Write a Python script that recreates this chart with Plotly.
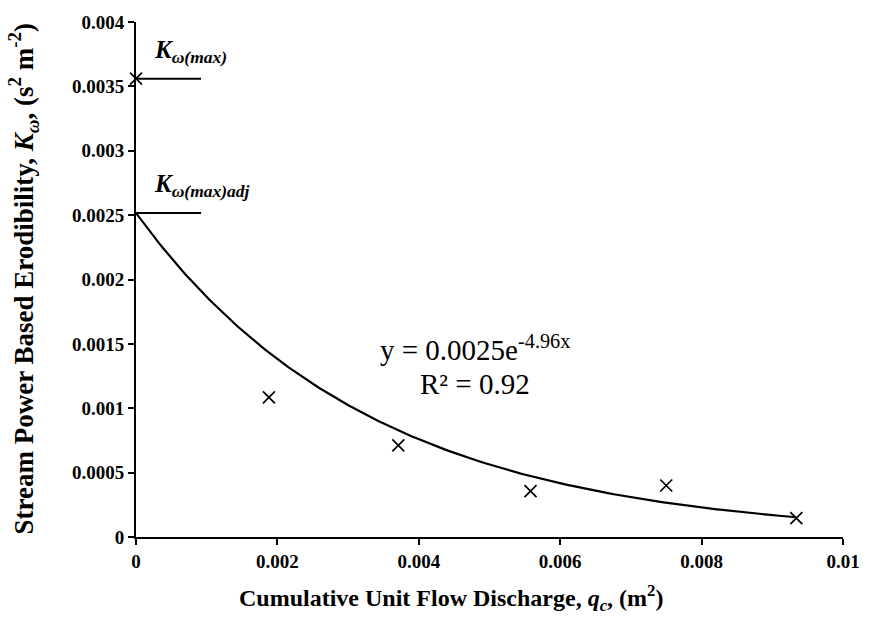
import numpy as np
import plotly.graph_objects as go

# Data
qc = [0.0, 0.00188, 0.00371, 0.00558, 0.00750, 0.00934]
kw = [0.00356, 0.001085, 0.000711, 0.000357, 0.000400, 0.000147]
k_max = 0.00356
x_ticks = [0, 0.002, 0.004, 0.006, 0.008, 0.01]
x_tick_labels = ["0", "0.002", "0.004", "0.006", "0.008", "0.01"]
y_ticks = [0, 0.0005, 0.001, 0.0015, 0.002, 0.0025, 0.003, 0.0035, 0.004]
y_tick_labels = ["0", "0.0005", "0.001", "0.0015", "0.002", "0.0025", "0.003", "0.0035", "0.004"]
eq_text = "y = 0.0025e<sup>-4.96x</sup>"
r2_text = "R² = 0.92"

# Exponential trendline fitted to the data
slope, intercept = np.polyfit(qc, np.log(kw), 1)
k_adj = float(np.exp(intercept))
fit_x = np.linspace(0, max(qc), 200)
fit_y = k_adj * np.exp(slope * fit_x)

FONT = "Liberation Serif, Times New Roman, serif"

fig = go.Figure()
fig.add_trace(go.Scatter(x=fit_x, y=fit_y, mode="lines",
                         line=dict(color="black", width=2.2), showlegend=False,
                         hoverinfo="skip"))
fig.add_trace(go.Scatter(x=qc, y=kw, mode="markers",
                         marker=dict(symbol="x-thin", size=12, color="black",
                                     line=dict(color="black", width=1.7)),
                         showlegend=False, cliponaxis=False))

line_len = 0.00092
for yv in [k_max, k_adj]:
    fig.add_shape(type="line", x0=0, x1=line_len, y0=yv, y1=yv, xref="x", yref="y",
                  line=dict(color="black", width=2))

fig.add_annotation(x=0.00022, y=k_max, xref="x", yref="y", yshift=10,
                   xanchor="left", yanchor="bottom", showarrow=False,
                   text="<b><i>K<sub>ω(max)</sub></i></b>",
                   font=dict(family=FONT, size=25, color="black"))
fig.add_annotation(x=0.00022, y=k_adj, xref="x", yref="y", yshift=10,
                   xanchor="left", yanchor="bottom", showarrow=False,
                   text="<b><i>K<sub>ω(max)adj</sub></i></b>",
                   font=dict(family=FONT, size=25, color="black"))
fig.add_annotation(x=0.00479, y=0.00147, xref="x", yref="y",
                   xanchor="center", yanchor="middle", showarrow=False,
                   text=eq_text, font=dict(family=FONT, size=29, color="black"))
fig.add_annotation(x=0.00479, y=0.00119, xref="x", yref="y",
                   xanchor="center", yanchor="middle", showarrow=False,
                   text=r2_text, font=dict(family=FONT, size=29, color="black"))

# x-axis title (slightly left of centre, as in the reference)
fig.add_annotation(x=0.445, y=0, xref="paper", yref="paper", yshift=-42,
                   xanchor="center", yanchor="top", showarrow=False,
                   text="<b>Cumulative Unit Flow Discharge, <i>q<sub>c</sub></i>, (m<sup>2</sup>)</b>",
                   font=dict(family=FONT, size=24, color="black"))
# y-axis title
fig.add_annotation(x=0, y=0.5, xref="paper", yref="paper", xshift=-113,
                   xanchor="center", yanchor="middle", showarrow=False, textangle=-90,
                   text="<b>Stream Power Based Erodibility, <i>K<sub>ω</sub></i>, (s<sup>2</sup> m<sup>-2</sup>)</b>",
                   font=dict(family=FONT, size=27, color="black"))

fig.update_layout(
    width=872, height=617,
    margin=dict(l=136, r=20, t=14, b=80),
    plot_bgcolor="white", paper_bgcolor="white",
    font=dict(family=FONT, color="black"),
    xaxis=dict(range=[0, 0.01], tickvals=x_ticks, ticktext=x_tick_labels,
               showline=True, linecolor="black", linewidth=2,
               ticks="outside", ticklen=6, tickwidth=2, tickcolor="black",
               showgrid=False, zeroline=False,
               tickfont=dict(family=FONT, size=19, color="black", weight="bold")),
    yaxis=dict(range=[0, 0.004], tickvals=y_ticks, ticktext=y_tick_labels,
               showline=True, linecolor="black", linewidth=2,
               ticks="outside", ticklen=6, tickwidth=2, tickcolor="black",
               showgrid=False, zeroline=False,
               tickfont=dict(family=FONT, size=19, color="black", weight="bold")),
)

fig.write_html("out.html", config={"displayModeBar": False},
               post_script="document.body.style.margin='0';document.body.style.overflow='hidden';")
